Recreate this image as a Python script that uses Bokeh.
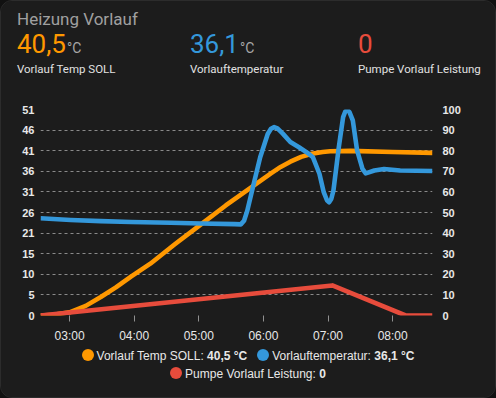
import pandas as pd
from bokeh.plotting import figure
from bokeh.layouts import column
from bokeh.models import (Range1d, LinearAxis, FixedTicker, DatetimeTickFormatter, Div,
                          GlobalInlineStyleSheet)
from bokeh.embed import file_html
from bokeh.resources import INLINE

# ---------------- data ----------------
day = "2024-01-15 "
card_title = "Heizung Vorlauf"
series_names = ["Vorlauf Temp SOLL", "Vorlauftemperatur", "Pumpe Vorlauf Leistung"]
series_current = ["40,5", "36,1", "0"]
series_units = ["°C", "°C", ""]
series_colors = ["#ff9800", "#3498db", "#e74c3c"]

soll_times = ["02:33", "02:45", "03:00", "03:15", "03:29", "03:43", "03:57", "04:15", "04:38",
              "05:02", "05:25", "05:48", "06:07", "06:16", "06:25", "06:35", "06:45", "06:55",
              "07:02", "07:21", "08:00", "08:37"]
soll_values = [0.0, 0.2, 0.8, 2.4, 4.6, 7.0, 9.7, 12.9, 17.8,
               22.7, 27.4, 31.8, 35.4, 37.0, 38.3, 39.5, 40.3, 40.7,
               40.9, 41.0, 40.7, 40.5]

ist_times = ["02:33", "03:01", "03:29", "03:57", "04:34", "05:02", "05:33", "05:39", "05:42",
             "05:45", "05:51", "05:57", "06:04", "06:07", "06:10", "06:13", "06:18", "06:25",
             "06:33", "06:42", "06:46", "06:52", "06:56", "06:59", "07:01", "07:03", "07:05",
             "07:10", "07:14", "07:16", "07:18", "07:20", "07:23", "07:27", "07:32", "07:35",
             "07:43", "07:52", "08:07", "08:37"]
ist_values = [24.2, 23.8, 23.5, 23.3, 23.1, 22.9, 22.75, 22.7, 23.6,
              26.1, 32.8, 39.4, 45.2, 46.5, 46.9, 46.6, 45.3, 43.2,
              41.9, 40.3, 39.4, 35.3, 30.7, 28.7, 28.2, 29.0, 31.1,
              41.9, 49.4, 50.8, 51.2, 50.6, 48.6, 41.1, 36.5, 35.4,
              36.1, 36.5, 36.1, 36.0]

pump_times = ["02:33", "07:04", "08:12", "08:37"]
pump_values = [0, 14.6, 0, 0]

left_max = 51.3
left_labels = ["0", "5", "10", "15", "21", "26", "31", "36", "41", "46", "51"]
right_ticks = [0, 10, 20, 30, 40, 50, 60, 70, 80, 90, 100]
x_tick_times = ["03:00", "04:00", "05:00", "06:00", "07:00", "08:00"]
x_start, x_end = "02:33", "08:37"


def ts(t):
    return pd.Timestamp(day + t)


def ms(t):
    return ts(t).value / 1e6


W = 494
HEAD_H = 100
CHART_H = 244
LEG_H = 396 - HEAD_H - CHART_H
BG = "#1c1c1c"

# ---------------- header (card title + current values) ----------------
col_x = [16, 189, 357]
parts = [f'<div style="position:absolute;left:16px;top:10px;font:17px Roboto;line-height:1;'
         f'color:#a0a0a0;white-space:nowrap;">{card_title}</div>']
for x, name, cur, unit, c in zip(col_x, series_names, series_current, series_units, series_colors):
    unit_html = (f'<span style="font-size:14px;color:#a8a8a8;margin-left:1px;">{unit}</span>'
                 if unit else "")
    parts.append(f'<div style="position:absolute;left:{x}px;top:30px;font-family:Roboto;'
                 f'line-height:26px;white-space:nowrap;"><span style="font-size:26px;color:{c};">'
                 f'{cur}</span>{unit_html}</div>')
    parts.append(f'<div style="position:absolute;left:{x}px;top:62.6px;font:11.5px Roboto;'
                 f'line-height:1;color:#e1e1e1;white-space:nowrap;">{name}</div>')
header = Div(text=f'<div style="position:relative;width:{W}px;height:{HEAD_H}px;">' + "".join(parts) + "</div>",
             width=W, height=HEAD_H, styles={"background": BG, "margin": "0", "padding": "0"})

# ---------------- chart ----------------
p = figure(width=W, height=CHART_H, x_axis_type="datetime", output_backend="svg",
           toolbar_location=None,
           x_range=Range1d(ts(x_start), ts(x_end)), y_range=Range1d(0, left_max),
           min_border_left=39, min_border_right=63, min_border_top=8, min_border_bottom=30,
           background_fill_color=BG, border_fill_color=BG, outline_line_color=None)
p.extra_y_ranges = {"power": Range1d(0, right_ticks[-1])}

p.line([ts(t) for t in soll_times], soll_values, color=series_colors[0], line_width=4.6,
       line_join="round")
p.line([ts(t) for t in ist_times], ist_values, color=series_colors[1], line_width=4.6,
       line_join="round")
p.line([ts(t) for t in pump_times], pump_values, color=series_colors[2], line_width=4.6,
       line_join="round", y_range_name="power")

left_ticks = [left_max * i / 10 for i in range(len(left_labels))]
yax = p.yaxis[0]
yax.ticker = FixedTicker(ticks=left_ticks)
yax.major_label_overrides = {t: l for t, l in zip(left_ticks, left_labels)}
ax_r = LinearAxis(y_range_name="power", ticker=FixedTicker(ticks=right_ticks))
p.add_layout(ax_r, "right")
for ax in (yax, ax_r):
    ax.axis_line_color = None
    ax.major_tick_line_color = None
    ax.minor_tick_line_color = None
    ax.major_tick_out = 0
    ax.major_tick_in = 0
    ax.minor_tick_out = 0
    ax.major_label_text_color = "#e8e8e8"
    ax.major_label_text_font = "Liberation Sans"
    ax.major_label_text_font_size = "11px"
    ax.major_label_text_font_style = "bold"
yax.major_label_standoff = 6
ax_r.major_label_standoff = 10

xax = p.xaxis[0]
xax.ticker = FixedTicker(ticks=[ms(t) for t in x_tick_times])
xax.formatter = DatetimeTickFormatter(hours="%H:%M", hourmin="%H:%M", minutes="%H:%M")
xax.axis_line_color = None
xax.minor_tick_line_color = None
xax.major_tick_line_color = "#909090"
xax.major_tick_out = 6
xax.major_tick_in = 0
xax.major_label_standoff = 7
xax.major_label_text_color = "#e8e8e8"
xax.major_label_text_font = "Liberation Sans"
xax.major_label_text_font_size = "12px"

p.xgrid.grid_line_color = None
p.ygrid.grid_line_color = "#8a8a8a"
p.ygrid.grid_line_dash = "3 3"
p.ygrid.grid_line_width = 1

# ---------------- legend below the chart ----------------
def leg_item(c, n, v, u):
    dot = (f'<span style="display:inline-block;width:12px;height:12px;border-radius:50%;'
           f'background:{c};vertical-align:middle;margin-right:3px;position:relative;top:-1px;"></span>')
    return (f'<span style="white-space:nowrap;margin:0 5px;">{dot}'
            f'<span style="vertical-align:middle;">{n}: <b>{(v + " " + u).strip()}</b></span></span>')

items = [leg_item(*a) for a in zip(series_colors, series_names, series_current, series_units)]
row_style = (f"position:absolute;left:0;width:{W}px;text-align:center;line-height:18px;"
             "font-family:'Liberation Sans',Arial,sans-serif;font-size:12px;color:#e8e8e8;"
             "white-space:nowrap;")
legend_html = (f'<div style="position:relative;width:{W}px;height:{LEG_H}px;">'
               f'<div style="{row_style}top:1px;">{items[0]}{items[1]}</div>'
               f'<div style="{row_style}top:19px;">{items[2]}</div></div>')
legend = Div(text=legend_html, width=W, height=LEG_H,
             styles={"background": BG, "margin": "0", "padding": "0"})

layout = column(header, p, legend, spacing=0)
layout.styles = {"border": "1px solid #2c2c2c", "border-radius": "12px", "overflow": "hidden",
                 "background": BG}
layout.stylesheets = [GlobalInlineStyleSheet(css="html,body{margin:0;padding:0;background:#111111;}")]

open("out.html", "w").write(file_html(layout, INLINE))
